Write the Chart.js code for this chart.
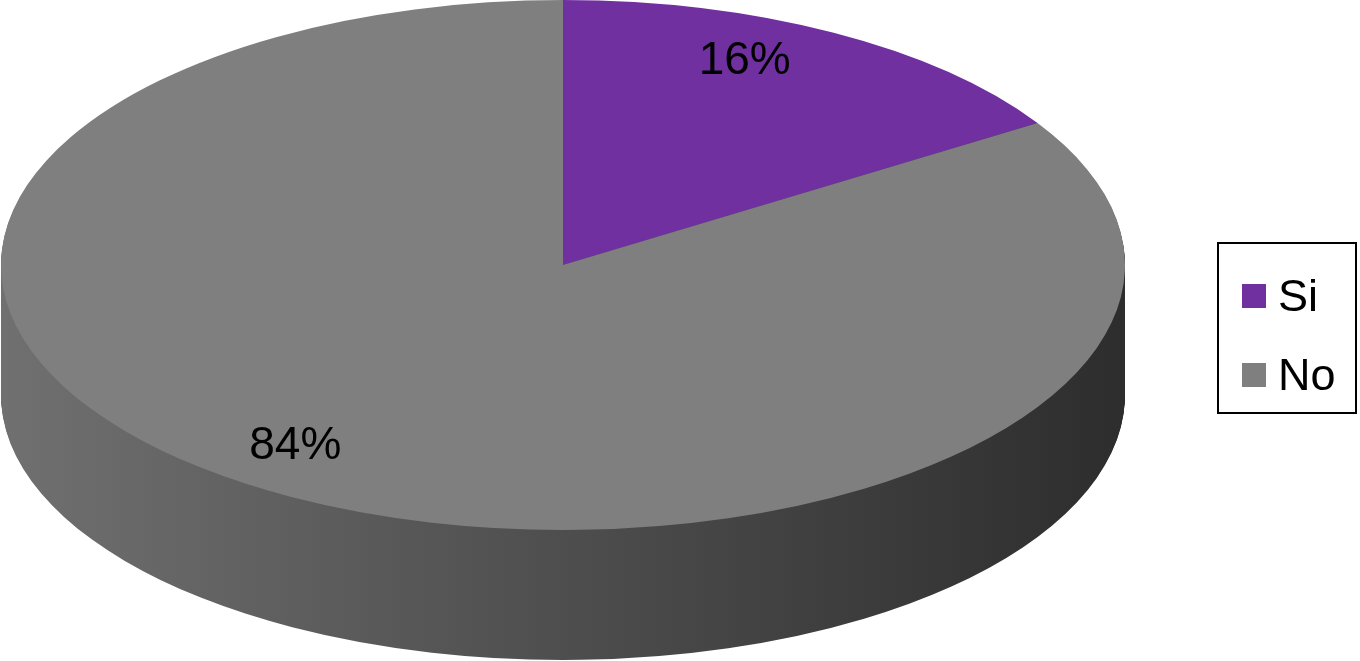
<!DOCTYPE html>
<html>
<head>
<meta charset="utf-8">
<script src="https://cdn.jsdelivr.net/npm/chart.js@4/dist/chart.umd.min.js"></script>
<style>
  html, body { margin: 0; padding: 0; background: #ffffff; }
  #wrap { position: relative; width: 1360px; height: 661px; overflow: hidden; }
  #c { position: absolute; left: 0; top: 0; }
  #legend { position: absolute; left: 1217px; top: 242px; width: 136px; height: 168px;
            border: 2px solid #000; font-family: "Liberation Sans", Arial, sans-serif; font-size: 45px; color: #000; }
  .item { position: absolute; left: 23px; height: 50px; display: flex; align-items: center; }
  .sw { width: 24px; height: 24px; margin-right: 12px; }
</style>
</head>
<body>
<div id="wrap">
  <canvas id="c" width="1360" height="661"></canvas>
  <div id="legend"></div>
</div>
<script>
// ---- data ----
const categories = ['Si', 'No'];
const values = [16, 84];
const valueLabels = ['16%', '84%'];
const colors = ['#7030A0', '#7F7F7F'];

// ---- legend (text from arrays) ----
const legendEl = document.getElementById('legend');
const legendTops = [27, 106];
categories.forEach((c, i) => {
  const it = document.createElement('div');
  it.className = 'item';
  it.style.top = legendTops[i] + 'px';
  const sw = document.createElement('span');
  sw.className = 'sw';
  sw.style.background = colors[i];
  const tx = document.createElement('span');
  tx.textContent = c;
  it.appendChild(sw); it.appendChild(tx);
  legendEl.appendChild(it);
});

// ---- 3D projection geometry ----
const E = { x: 563, y: 265, rx: 562, ry: 265, depth: 130 };

function applyTransform(ctx, arc, dy) {
  const r = arc.outerRadius;
  ctx.translate(E.x, E.y + dy);
  ctx.scale(E.rx / r, E.ry / r);
  ctx.translate(-arc.x, -arc.y);
}

const pie3d = {
  id: 'pie3d',
  beforeDatasetsDraw(chart) {
    const ctx = chart.ctx;
    const arcs = chart.getDatasetMeta(0).data;
    const a0 = arcs[0];
    const r = a0.outerRadius;
    const grad = ctx.createLinearGradient(a0.x - r, 0, a0.x + r, 0);
    grad.addColorStop(0, '#707070');
    grad.addColorStop(0.5, '#4e4e4e');
    grad.addColorStop(1, '#2d2d2d');
    // side walls: library arcs drawn stacked downward
    for (let d = E.depth; d > 0; d--) {
      arcs.forEach(a => {
        const tmp = Object.create(a);
        tmp.options = Object.assign({}, a.options, { backgroundColor: grad, borderWidth: 0 });
        ctx.save();
        applyTransform(ctx, a, d);
        a.draw.call(tmp, ctx);
        ctx.restore();
      });
    }
    // top face
    arcs.forEach(a => {
      ctx.save();
      applyTransform(ctx, a, 0);
      a.draw(ctx);
      ctx.restore();
    });
    // value labels
    ctx.save();
    ctx.font = '46px "Liberation Sans", Arial, sans-serif';
    ctx.fillStyle = '#000';
    ctx.textAlign = 'center';
    ctx.textBaseline = 'middle';
    arcs.forEach((a, i) => {
      const mid = (a.startAngle + a.endAngle) / 2;
      const f = 0.83;
      const lx = E.x + f * E.rx * Math.cos(mid) - 43;
      const ly = E.y + f * E.ry * Math.sin(mid) - 11;
      ctx.fillText(valueLabels[i], lx, ly);
    });
    ctx.restore();
    return false;
  }
};

new Chart(document.getElementById('c'), {
  type: 'pie',
  data: {
    labels: categories,
    datasets: [{ data: values, backgroundColor: colors, borderWidth: 0 }]
  },
  options: {
    responsive: false,
    animation: false,
    devicePixelRatio: 1,
    layout: { padding: 0 },
    plugins: { legend: { display: false }, tooltip: { enabled: false } }
  },
  plugins: [pie3d]
});
</script>
</body>
</html>
